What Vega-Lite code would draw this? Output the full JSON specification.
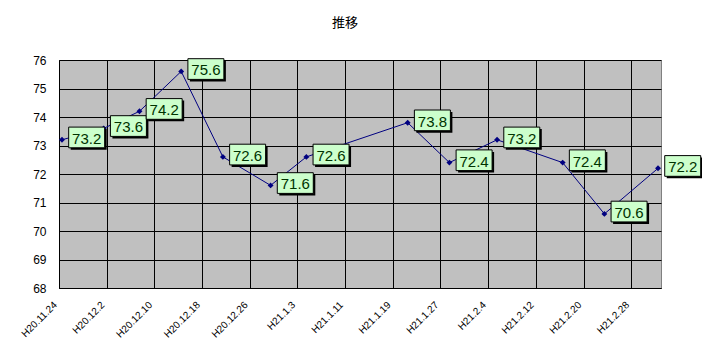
{
  "$schema": "https://vega.github.io/schema/vega-lite/v6.json",
  "autosize": "none",
  "width": 602,
  "height": 228,
  "padding": {"left": 59, "top": 60, "right": 41, "bottom": 70},
  "background": "white",
  "title": {
    "text": "推移",
    "font": "Noto Sans CJK JP",
    "fontSize": 13,
    "fontWeight": "normal",
    "color": "black",
    "anchor": "middle",
    "offset": 24,
    "dx": -15
  },
  "data": {
    "values": [
      {"date": "2008-11-24T12:00:00Z", "value": 73.2},
      {"date": "2008-12-01T12:00:00Z", "value": 73.6},
      {"date": "2008-12-07T12:00:00Z", "value": 74.2},
      {"date": "2008-12-14T12:00:00Z", "value": 75.6},
      {"date": "2008-12-21T12:00:00Z", "value": 72.6},
      {"date": "2008-12-29T12:00:00Z", "value": 71.6},
      {"date": "2009-01-04T12:00:00Z", "value": 72.6},
      {"date": "2009-01-21T12:00:00Z", "value": 73.8},
      {"date": "2009-01-28T12:00:00Z", "value": 72.4},
      {"date": "2009-02-05T12:00:00Z", "value": 73.2},
      {"date": "2009-02-16T12:00:00Z", "value": 72.4},
      {"date": "2009-02-23T12:00:00Z", "value": 70.6},
      {"date": "2009-03-04T12:00:00Z", "value": 72.2}
    ]
  },
  "encoding": {
    "x": {
      "field": "date",
      "type": "temporal",
      "scale": {
        "type": "utc",
        "domain": [
          {"year": 2008, "month": 11, "date": 24, "utc": true},
          {"year": 2009, "month": 3, "date": 5, "utc": true}
        ]
      },
      "axis": {
        "title": null,
        "values": [
          {"year": 2008, "month": 11, "date": 24, "utc": true},
          {"year": 2008, "month": 12, "date": 2, "utc": true},
          {"year": 2008, "month": 12, "date": 10, "utc": true},
          {"year": 2008, "month": 12, "date": 18, "utc": true},
          {"year": 2008, "month": 12, "date": 26, "utc": true},
          {"year": 2009, "month": 1, "date": 3, "utc": true},
          {"year": 2009, "month": 1, "date": 11, "utc": true},
          {"year": 2009, "month": 1, "date": 19, "utc": true},
          {"year": 2009, "month": 1, "date": 27, "utc": true},
          {"year": 2009, "month": 2, "date": 4, "utc": true},
          {"year": 2009, "month": 2, "date": 12, "utc": true},
          {"year": 2009, "month": 2, "date": 20, "utc": true},
          {"year": 2009, "month": 2, "date": 28, "utc": true}
        ],
        "labelExpr": "'H' + (utcyear(datum.value) - 1988) + '.' + (utcmonth(datum.value) + 1) + '.' + utcdate(datum.value)",
        "labelAngle": -45,
        "labelAlign": "right",
        "labelBaseline": "middle",
        "labelPadding": 15,
        "labelOffset": -4,
        "labelFontSize": 10,
        "labelOverlap": false,
        "labelFlush": false,
        "ticks": false,
        "grid": true,
        "gridColor": "black",
        "gridOpacity": 1,
        "gridWidth": 1,
        "domainColor": "black"
      }
    },
    "y": {
      "field": "value",
      "type": "quantitative",
      "scale": {"domain": [68, 76], "nice": false, "zero": false},
      "axis": {
        "title": null,
        "values": [68, 69, 70, 71, 72, 73, 74, 75, 76],
        "labelFontSize": 12,
        "labelPadding": 13,
        "ticks": false,
        "grid": true,
        "gridColor": "black",
        "gridOpacity": 1,
        "gridWidth": 1,
        "domainColor": "black"
      }
    }
  },
  "layer": [
    {"mark": {"type": "line", "color": "#000080", "strokeWidth": 1}},
    {"mark": {"type": "point", "shape": "diamond", "filled": true, "color": "#000080", "size": 35, "opacity": 1}},
    {
      "mark": {"type": "rect", "fill": "black", "xOffset": 8.7, "x2Offset": 44.7, "yOffset": -10.7, "y2Offset": 10},
      "encoding": {"x2": {"field": "date"}, "y2": {"field": "value"}}
    },
    {
      "mark": {"type": "rect", "fill": "#CCFFCC", "stroke": "black", "strokeWidth": 1, "xOffset": 6.7, "x2Offset": 42.7, "yOffset": -12.7, "y2Offset": 8},
      "encoding": {"x2": {"field": "date"}, "y2": {"field": "value"}}
    },
    {
      "mark": {"type": "text", "align": "center", "baseline": "middle", "dx": 24.7, "dy": -1, "fontSize": 15, "font": "Liberation Sans", "color": "#003300"},
      "encoding": {"text": {"field": "value", "type": "quantitative", "format": ".1f"}}
    }
  ],
  "config": {
    "font": "Liberation Sans",
    "view": {"fill": "#C0C0C0", "stroke": "#808080", "strokeWidth": 1},
    "axis": {"labelColor": "black", "labelFont": "Liberation Sans"}
  }
}
